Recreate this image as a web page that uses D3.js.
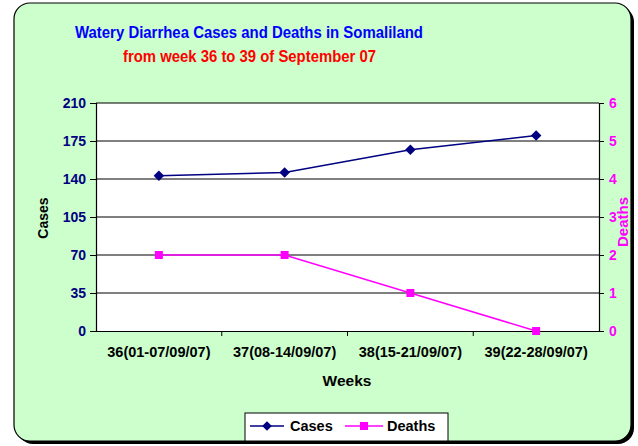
<!DOCTYPE html>
<html>
<head>
<meta charset="utf-8">
<script src="https://cdn.jsdelivr.net/npm/d3@7"></script>
<style>
  body { margin: 0; background: #fff; }
  text { font-family: Arial, "Liberation Sans", sans-serif; font-weight: bold; }
</style>
</head>
<body>
<div id="chart"></div>
<script>
// chart data
var weeks = ["36(01-07/09/07)", "37(08-14/09/07)", "38(15-21/09/07)", "39(22-28/09/07)"];
var cases = [143, 146, 167, 180];
var deaths = [2, 2, 1, 0];
var caseTicks = [0, 35, 70, 105, 140, 175, 210];
var deathTicks = [0, 1, 2, 3, 4, 5, 6];

var W = 638, H = 446;
var svg = d3.select("#chart").append("svg")
    .attr("width", W).attr("height", H);

// rounded background with shadow
svg.append("rect")
    .attr("x", 17).attr("y", 6).attr("width", 617).attr("height", 438)
    .attr("rx", 16).attr("fill", "#000");
svg.append("rect")
    .attr("x", 14).attr("y", 3).attr("width", 617).attr("height", 438)
    .attr("rx", 16).attr("fill", "#ccffcc")
    .attr("stroke", "#000").attr("stroke-width", 1.2);

// titles (glyphs in the original are tall and narrow)
svg.append("text").attr("x", 75).attr("y", 38)
    .attr("fill", "#0000ff")
    .attr("textLength", 348).attr("lengthAdjust", "spacingAndGlyphs")
    .style("font-size", "16.5px")
    .text("Watery Diarrhea Cases and Deaths in Somaliland");
svg.append("text").attr("x", 123).attr("y", 62)
    .attr("fill", "#ff0000")
    .attr("textLength", 253).attr("lengthAdjust", "spacingAndGlyphs")
    .style("font-size", "16.5px")
    .text("from week 36 to 39 of September 07");

var plot = { left: 96, top: 103, right: 599, bottom: 331 };

var x = d3.scaleBand().domain(weeks).range([plot.left, plot.right]);
var y = d3.scaleLinear().domain([0, 210]).range([plot.bottom, plot.top]);
var y2 = d3.scaleLinear().domain([0, 6]).range([plot.bottom, plot.top]);

// plot area
svg.append("rect")
    .attr("x", plot.left).attr("y", plot.top)
    .attr("width", plot.right - plot.left).attr("height", plot.bottom - plot.top)
    .attr("fill", "#fff");

// gridlines
svg.append("g").selectAll("line")
    .data(caseTicks.slice(1))
    .join("line")
    .attr("x1", plot.left).attr("x2", plot.right)
    .attr("y1", function(d) { return y(d); })
    .attr("y2", function(d) { return y(d); })
    .attr("stroke", "#000").attr("stroke-width", 1);

// left axis
var left = svg.append("g")
    .attr("transform", "translate(" + plot.left + ",0)")
    .call(d3.axisLeft(y).tickValues(caseTicks).tickSize(6).tickPadding(4));
left.selectAll("text").attr("fill", "#000080").style("font-size", "14px");

// right axis
var right = svg.append("g")
    .attr("transform", "translate(" + plot.right + ",0)")
    .call(d3.axisRight(y2).tickValues(deathTicks).tickFormat(d3.format("d")).tickSize(5).tickPadding(5));
right.selectAll("text").attr("fill", "#ff00ff").style("font-size", "14px");

// bottom axis
var bottom = svg.append("g")
    .attr("transform", "translate(0," + plot.bottom + ")")
    .call(d3.axisBottom(x).tickSize(0).tickPadding(16));
bottom.selectAll("text").attr("fill", "#000").style("font-size", "14.5px");
bottom.selectAll(".tick-sep")
    .data(weeks.slice(1))
    .join("line")
    .attr("x1", function(d) { return x(d); })
    .attr("x2", function(d) { return x(d); })
    .attr("y1", 0).attr("y2", 5)
    .attr("stroke", "#000");

svg.selectAll(".domain").attr("stroke", "#000").attr("stroke-width", 1.2);
svg.selectAll(".tick line").attr("stroke", "#000");

// axis titles
svg.append("text")
    .attr("transform", "translate(48,218) rotate(-90)")
    .attr("text-anchor", "middle").style("font-size", "14px")
    .text("Cases");
svg.append("text")
    .attr("transform", "translate(628,222) rotate(-90)")
    .attr("text-anchor", "middle").attr("fill", "#ff00ff")
    .style("font-size", "15px")
    .text("Deaths");
svg.append("text")
    .attr("x", 347).attr("y", 386)
    .attr("text-anchor", "middle").style("font-size", "15.5px")
    .text("Weeks");

var cx = function(i) { return x(weeks[i]) + x.bandwidth() / 2; };

// cases line
svg.append("path")
    .datum(cases)
    .attr("fill", "none").attr("stroke", "#000080").attr("stroke-width", 1.5)
    .attr("d", d3.line().x(function(d, i) { return cx(i); }).y(function(d) { return y(d); }));
svg.append("g").selectAll("path")
    .data(cases)
    .join("path")
    .attr("d", d3.symbol().type(d3.symbolDiamond2).size(70))
    .attr("transform", function(d, i) { return "translate(" + cx(i) + "," + y(d) + ")"; })
    .attr("fill", "#000080");

// deaths line
svg.append("path")
    .datum(deaths)
    .attr("fill", "none").attr("stroke", "#ff00ff").attr("stroke-width", 1.5)
    .attr("d", d3.line().x(function(d, i) { return cx(i); }).y(function(d) { return y2(d); }));
svg.append("g").selectAll("rect")
    .data(deaths)
    .join("rect")
    .attr("x", function(d, i) { return cx(i) - 4; })
    .attr("y", function(d) { return y2(d) - 4; })
    .attr("width", 8).attr("height", 8)
    .attr("fill", "#ff00ff");

// legend
var lg = svg.append("g");
lg.append("rect")
    .attr("x", 245).attr("y", 413).attr("width", 203).attr("height", 28)
    .attr("fill", "#fff").attr("stroke", "#000").attr("stroke-width", 1);
lg.append("line").attr("x1", 250).attr("x2", 284).attr("y1", 426).attr("y2", 426)
    .attr("stroke", "#000080").attr("stroke-width", 1.5);
lg.append("path")
    .attr("d", d3.symbol().type(d3.symbolDiamond2).size(60))
    .attr("transform", "translate(267,426)").attr("fill", "#000080");
lg.append("text").attr("x", 290).attr("y", 431).style("font-size", "14.5px").text("Cases");
lg.append("line").attr("x1", 345).attr("x2", 383).attr("y1", 426).attr("y2", 426)
    .attr("stroke", "#ff00ff").attr("stroke-width", 1.5);
lg.append("rect").attr("x", 360).attr("y", 422).attr("width", 8).attr("height", 8)
    .attr("fill", "#ff00ff");
lg.append("text").attr("x", 387).attr("y", 431).style("font-size", "14.5px").text("Deaths");
</script>
</body>
</html>
